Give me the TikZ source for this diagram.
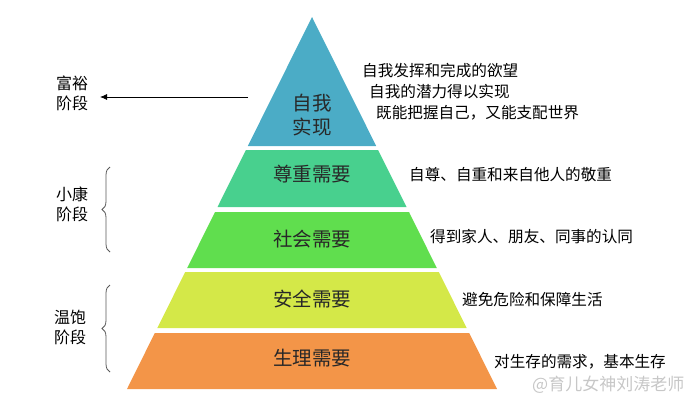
\documentclass[tikz,border=0pt]{standalone}
\usepackage{fontspec}
\setmainfont{Noto Sans CJK SC}
\usetikzlibrary{decorations.pathreplacing,arrows.meta}
\definecolor{lvA}{RGB}{75,172,198}
\definecolor{lvB}{RGB}{72,208,142}
\definecolor{lvC}{RGB}{96,222,78}
\definecolor{lvD}{RGB}{212,232,72}
\definecolor{lvE}{RGB}{243,149,72}
\definecolor{intxt}{RGB}{40,40,40}
\tikzset{
  intext/.style={text=intxt,inner sep=0pt,font=\fontsize{19.5pt}{24pt}\selectfont},
  desc/.style={text=black,anchor=west,inner sep=0pt,font=\fontsize{15.6pt}{20pt}\selectfont},
  stage/.style={text=black,inner sep=0pt,align=center,font=\fontsize{16pt}{20pt}\selectfont},
  bracestyle/.style={draw=black!65,line width=0.8pt,decorate,decoration={brace,amplitude=8pt}},
}
\begin{document}
\begin{tikzpicture}[x=1pt,y=-1pt]
\useasboundingbox (0,0) rectangle (700,405);
% pyramid bands
\fill[lvA] (312,17) -- (376.2,146) -- (247.8,146) -- cycle;
\fill[lvB] (245.9,150) -- (378.1,150) -- (406.5,207) -- (217.5,207) -- cycle;
\fill[lvC] (215,212) -- (409,212) -- (436.8,268) -- (187.2,268) -- cycle;
\fill[lvD] (185.2,272) -- (438.8,272) -- (466.7,328) -- (157.3,328) -- cycle;
\fill[lvE] (154.8,333) -- (469.2,333) -- (497,389) -- (127,389) -- cycle;
% inner labels
\node[intext] (zw1) at (312,103) {自我};
\node[intext] (zw2) at (312,127) {实现};
\node[intext] (zz) at (312,174) {尊重需要};
\node[intext] (sh) at (312,239) {社会需要};
\node[intext] (aq) at (312,299) {安全需要};
\node[intext] (sl) at (312,358) {生理需要};
% descriptions
\node[desc] (d1) at (362,71) {自我发挥和完成的欲望};
\node[desc] (d2) at (369,92) {自我的潜力得以实现};
\node[desc] (d3) at (376,113) {既能把握自己，又能支配世界};
\node[desc] (d4) at (409,175) {自尊、自重和来自他人的敬重};
\node[desc] (d5) at (430,237) {得到家人、朋友、同事的认同};
\node[desc] (d6) at (462,300) {避免危险和保障生活};
\node[desc] (d7) at (494,362) {对生存的需求，基本生存};
% stages
\node[stage] (fy) at (72,93) {富裕\\阶段};
\node[stage] (xk) at (72,204) {小康\\阶段};
\node[stage] (wb) at (70,327) {温饱\\阶段};
\coordinate (arrstart) at (248,97);
\coordinate (arrend) at (100,97);
\draw[line width=0.8pt,-{Latex[length=7pt,width=6pt]}] (arrstart) -- (arrend);
\coordinate (xkB) at (110,252);
\coordinate (xkT) at (110,167);
\draw[bracestyle] (xkB) -- (xkT);
\coordinate (wbB) at (110,372);
\coordinate (wbT) at (110,285);
\draw[bracestyle] (wbB) -- (wbT);
% watermark
\node[anchor=west,inner sep=0pt,text=black!22,font=\fontsize{17pt}{20pt}\selectfont] (wm) at (532,385) {@育儿女神刘涛老师};
\end{tikzpicture}
\end{document}
